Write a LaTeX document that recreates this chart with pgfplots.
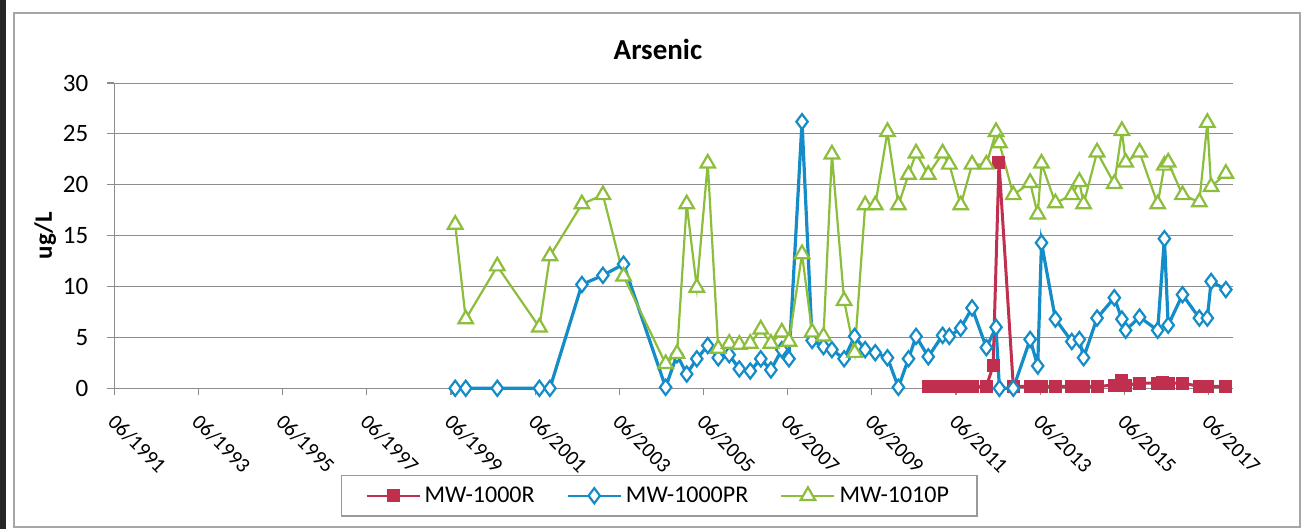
\documentclass[border=0pt]{standalone}
\usepackage{pgfplots}
\pgfplotsset{compat=1.18}
\usepackage{fontspec}
\setmainfont{Carlito}
\definecolor{cred}{RGB}{192,48,78}
\definecolor{cblue}{RGB}{20,140,200}
\definecolor{cgreen}{RGB}{140,190,60}
\definecolor{cgrid}{RGB}{140,140,140}
\begin{document}
\begin{tikzpicture}
\path[use as bounding box] (-57.15pt,-70.35pt) rectangle (596.35pt,194.15pt);
\fill[black!85] (-57.15pt,-70.35pt) rectangle (-54.15pt,194.15pt);
\draw[gray!70, line width=0.6pt] (-50.15pt,-69.35pt) rectangle (592.85pt,187.65pt);
\begin{axis}[
  scale only axis, width=559.35pt, height=152.65pt,
  xmin=1991.42, xmax=2018.0, ymin=0, ymax=30,
  axis x line*=bottom, axis y line*=left,
  axis line style={cgrid, line width=0.6pt},
  xtick={1991.42,1993.42,1995.42,1997.42,1999.42,2001.42,2003.42,2005.42,2007.42,2009.42,2011.42,2013.42,2015.42,2017.42},
  xticklabels={06/1991,06/1993,06/1995,06/1997,06/1999,06/2001,06/2003,06/2005,06/2007,06/2009,06/2011,06/2013,06/2015,06/2017},
  ytick={0,5,...,30},
  tick style={cgrid, line width=0.6pt},
  major tick length=3.5pt,
  tick align=outside,
  ymajorgrids, grid style={cgrid, line width=0.5pt},
  xticklabel style={rotate=-45, anchor=base west, font=\fontsize{10.5}{12}\selectfont, inner sep=0pt, yshift=-12.5pt, xshift=7pt},
  yticklabel style={font=\fontsize{12.5}{14}\selectfont, xshift=-6pt},
  ylabel={\textbf{ug/L}},
  ylabel style={font=\fontsize{12.5}{14}\selectfont, at={(axis description cs:-0.0617,0.5)}, anchor=center, rotate=0},
  /pgf/number format/assume math mode=true,
  legend style={at={(axis description cs:0.487,-0.352)}, anchor=center, draw=gray!80, line width=0.6pt, font=\fontsize{12}{14}\selectfont, legend columns=3, /tikz/every odd column/.append style={column sep=0pt}, /tikz/every even column/.append style={column sep=14pt}, inner xsep=12pt, inner ysep=3.5pt},
  legend image code/.code={\draw[mark repeat=2,mark phase=2] plot coordinates {(0pt,0pt) (13.25pt,0pt) (26.5pt,0pt)};},
  legend image post style={line width=1.2pt},
  legend cell align=left,
  clip=false,
]
\addplot[cred, line width=1.5pt, mark=square*, mark size=3pt, mark options={fill=cred, line width=0.5pt}] coordinates {
(2010.76,0.2) (2010.88,0.2) (2011.0,0.2) (2011.10,0.2) (2011.26,0.2) (2011.4,0.2) (2011.53,0.2) (2011.65,0.2) (2011.80,0.2) (2012.14,0.2) (2012.30,2.2) (2012.44,22.2) (2012.78,0.2) (2013.18,0.2) (2013.28,0.2) (2013.36,0.2) (2013.45,0.2) (2013.78,0.2) (2014.17,0.2) (2014.30,0.2) (2014.45,0.2) (2014.77,0.2) (2015.18,0.3) (2015.36,0.8) (2015.45,0.3) (2015.78,0.5) (2016.21,0.5) (2016.33,0.6) (2016.46,0.5) (2016.80,0.5) (2017.20,0.2) (2017.30,0.2) (2017.39,0.2) (2017.83,0.2)
};
\addlegendentry{MW-1000R}
\addplot[cblue, line width=1.6pt, mark=diamond*, mark size=3.8pt, mark options={fill=white, line width=1.1pt}] coordinates {
(1999.52,0) (1999.77,0) (2000.52,0) (2001.52,0) (2001.77,0) (2002.53,10.2) (2003.03,11.1) (2003.52,12.2) (2004.52,0.1) (2004.79,3.3) (2005.02,1.4) (2005.26,2.9) (2005.52,4.2) (2005.77,3.0) (2006.03,3.3) (2006.27,1.9) (2006.53,1.7) (2006.78,2.9) (2007.02,1.8) (2007.28,3.8) (2007.45,2.9) (2007.76,26.2) (2008.0,4.7) (2008.27,4.1) (2008.47,3.8) (2008.76,2.9) (2009.01,5.1) (2009.26,3.8) (2009.50,3.5) (2009.79,3.0) (2010.05,0.1) (2010.29,2.9) (2010.47,5.1) (2010.76,3.1) (2011.10,5.2) (2011.26,5.1) (2011.53,5.9) (2011.80,7.9) (2012.14,4.0) (2012.37,6.0) (2012.45,0) (2012.78,0) (2013.18,4.8) (2013.36,2.2) (2013.45,14.3) (2013.78,6.8) (2014.17,4.6) (2014.35,4.8) (2014.45,3.0) (2014.77,6.9) (2015.18,8.9) (2015.36,6.8) (2015.45,5.7) (2015.78,7.0) (2016.21,5.7) (2016.37,14.7) (2016.46,6.2) (2016.80,9.2) (2017.20,6.9) (2017.39,6.9) (2017.48,10.5) (2017.83,9.7)
};
\addlegendentry{MW-1000PR}
\addplot[cgreen, line width=1.1pt, mark=triangle*, mark size=4.2pt, mark options={fill=white, line width=1.1pt}] coordinates {
(1999.52,16.1) (1999.77,6.8) (2000.52,12.0) (2001.52,6.0) (2001.77,13.0) (2002.53,18.1) (2003.03,19.0) (2003.52,11.0) (2004.52,2.4) (2004.79,3.4) (2005.02,18.1) (2005.26,9.9) (2005.52,22.1) (2005.77,3.9) (2006.03,4.4) (2006.27,4.3) (2006.53,4.4) (2006.78,5.8) (2007.02,4.4) (2007.28,5.5) (2007.45,4.6) (2007.76,13.2) (2008.0,5.5) (2008.27,5.1) (2008.47,23.0) (2008.76,8.6) (2009.01,3.5) (2009.26,18.0) (2009.50,18.0) (2009.79,25.2) (2010.05,18.0) (2010.29,21.0) (2010.47,23.1) (2010.76,21.0) (2011.10,23.1) (2011.26,22.0) (2011.53,18.0) (2011.80,22.0) (2012.14,22.0) (2012.37,25.2) (2012.45,24.1) (2012.78,19.0) (2013.18,20.2) (2013.36,17.1) (2013.45,22.1) (2013.78,18.2) (2014.17,19.0) (2014.35,20.3) (2014.45,18.1) (2014.77,23.2) (2015.18,20.1) (2015.36,25.3) (2015.45,22.2) (2015.78,23.2) (2016.21,18.1) (2016.37,21.9) (2016.46,22.2) (2016.80,19.0) (2017.20,18.3) (2017.39,26.1) (2017.48,19.8) (2017.83,21.1)
};
\addlegendentry{MW-1010P}
\node[font=\bfseries\fontsize{14.5}{16}\selectfont] at (axis description cs:0.486,1.11) {Arsenic};
\end{axis}
\end{tikzpicture}
\end{document}
